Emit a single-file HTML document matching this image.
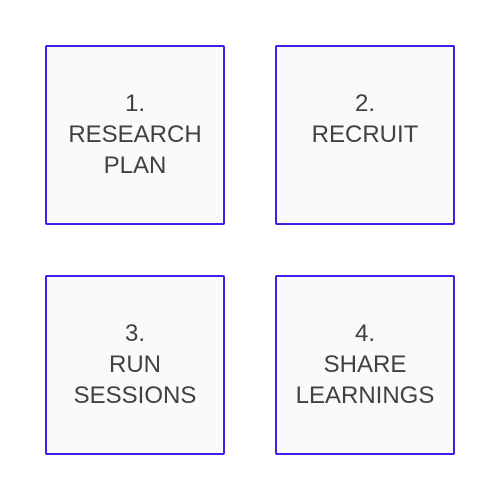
<!DOCTYPE html>
<html><head><meta charset="utf-8"><style>
html,body{margin:0;padding:0;background:#fff;width:500px;height:500px;overflow:hidden}
.box{position:absolute;box-sizing:border-box;width:180px;height:180px;padding-top:41px;border:2px solid #3f1ee8;border-radius:2px;background:#fafafa;text-align:center;font-family:"Liberation Sans",sans-serif;font-size:24px;line-height:31px;color:#3e4245}
</style></head><body>
<div class="box" style="left:45px;top:45px">1.<br>RESEARCH<br>PLAN</div>
<div class="box" style="left:275px;top:45px">2.<br>RECRUIT</div>
<div class="box" style="left:45px;top:275px">3.<br>RUN<br>SESSIONS</div>
<div class="box" style="left:275px;top:275px">4.<br>SHARE<br>LEARNINGS</div>
</body></html>
